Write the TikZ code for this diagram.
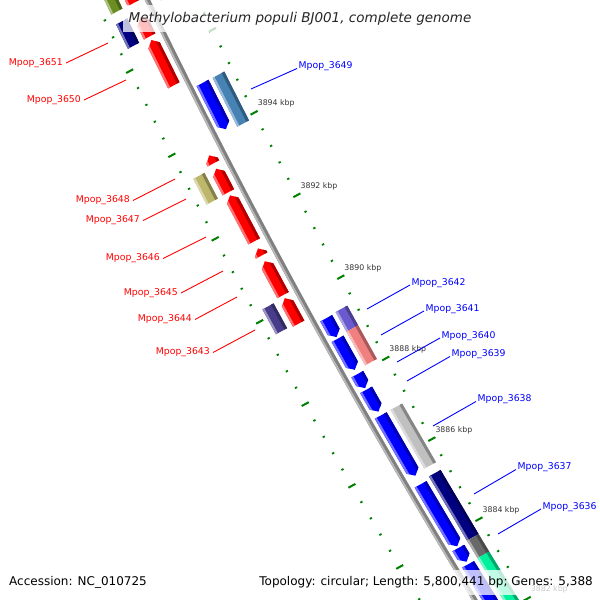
\documentclass[tikz,border=0pt]{standalone}
\usepackage{fontspec}
\setmainfont{DejaVu Sans}
\usetikzlibrary{calc}
\definecolor{cRed}{RGB}{255,0,0}
\definecolor{cBlue}{RGB}{0,0,255}
\definecolor{cSteel}{RGB}{70,130,180}
\definecolor{cNavy}{RGB}{0,0,128}
\definecolor{cOlive}{RGB}{107,142,35}
\definecolor{cKhaki}{RGB}{189,183,107}
\definecolor{cSlate}{RGB}{72,61,139}
\definecolor{cMSlate}{RGB}{106,90,205}
\definecolor{cCoral}{RGB}{240,128,128}
\definecolor{cSilver}{RGB}{192,192,192}
\definecolor{cDim}{RGB}{105,105,105}
\definecolor{cMint}{RGB}{0,240,155}
\definecolor{cTick}{RGB}{0,128,0}
\definecolor{cTickTxt}{RGB}{51,51,51}
\definecolor{cBB}{RGB}{128,128,128}
\definecolor{cBBl}{RGB}{185,185,185}

\makeatletter
\def\gcs@parse#1,#2\@nil{\pgfmathsetmacro\gcs@a{#1}\pgfmathsetmacro\gcs@o{#2}}
\tikzdeclarecoordinatesystem{g}{%
  \gcs@parse#1\@nil
  \pgfmathsetmacro\gcs@D{(\gcs@a/117.92)*((683.6-\gcs@a)/117.92)}%
  \pgfmathsetmacro\gcs@q{(\gcs@o)-(\gcs@D)}%
  \pgfmathsetmacro\gcs@x{147.5+0.479*(\gcs@a)+0.8777*(\gcs@q)}%
  \pgfmathsetmacro\gcs@y{0.8777*(\gcs@a)-0.479*(\gcs@q)}%
  \pgfpointxy{\gcs@x}{\gcs@y}%
}
\makeatother

\newcommand\gquad[4]{(g cs:#1,#3) -- (g cs:#2,#3) -- (g cs:#2,#4) -- (g cs:#1,#4) -- cycle}
\newcommand\gpaint[5]{%
  \fill[#5] \gquad{#1-2}{#2+2}{#3-2}{#4+2};
  \fill[#5!55!white] \gquad{#1-2}{#2+2}{#3-2}{#3+2.2};
  \fill[#5!70!black] \gquad{#1-2}{#2+2}{#4-3}{#4+2};
}
\newcommand\gbox[5]{\begin{scope}\clip \gquad{#1}{#2}{#3}{#4};\gpaint{#1}{#2}{#3}{#4}{#5}\end{scope}}
\newcommand\gup[5]{%
  \pgfmathsetmacro\gnHead{min(6,(#2)-(#1))}%
  \pgfmathsetmacro\gnMid{((#3)+(#4))/2}%
  \begin{scope}\clip (g cs:#1,\gnMid) -- (g cs:#1+\gnHead,#3) -- (g cs:#2,#3) -- (g cs:#2,#4) -- (g cs:#1+\gnHead,#4) -- cycle;
  \gpaint{#1}{#2}{#3}{#4}{#5}\end{scope}}
\newcommand\gdn[5]{%
  \pgfmathsetmacro\gnHead{min(6,(#2)-(#1))}%
  \pgfmathsetmacro\gnMid{((#3)+(#4))/2}%
  \begin{scope}\clip (g cs:#2,\gnMid) -- (g cs:#2-\gnHead,#4) -- (g cs:#1,#4) -- (g cs:#1,#3) -- (g cs:#2-\gnHead,#3) -- cycle;
  \gpaint{#1}{#2}{#3}{#4}{#5}\end{scope}}

\begin{document}
\begin{tikzpicture}[x=1pt,y=-1pt,
  lblL/.style={text=cRed,font=\fontsize{9.3}{11}\selectfont,inner xsep=3pt,inner ysep=0pt,anchor=east},
  lblR/.style={text=cBlue,font=\fontsize{9.3}{11}\selectfont,inner xsep=1.5pt,inner ysep=0pt,anchor=west},
  lineL/.style={cRed,line width=0.9pt},
  lineR/.style={cBlue,line width=0.9pt},
  tickmaj/.style={cTick,line width=2pt},
  tickmin/.style={cTick,line width=1.8pt},
  tklbl/.style={text=cTickTxt,font=\fontsize{7.8}{9}\selectfont,inner sep=0pt,anchor=west},
  fadebox/.style={fill=white,fill opacity=0.75,text opacity=1,inner sep=0pt},
]
\useasboundingbox (0,0) rectangle (600,600);
\begin{scope}
\clip (0,0) rectangle (600,600);
% tick rings
\foreach \i in {-3,...,37}{
  \pgfmathsetmacro\ta{53.9+18.82*\i}
  \pgfmathtruncatemacro\ismaj{mod(\i+100,5)==0}
  \ifnum\ismaj=1
    \draw[tickmaj] (g cs:\ta,-51.3) -- (g cs:\ta,-43.3);
  \else
    \draw[tickmin] (g cs:\ta,-48.5) -- (g cs:\ta,-46.1);
  \fi
}
\foreach \i in {-3,...,37}{
  \pgfmathsetmacro\tb{57.2+18.58*\i}
  \pgfmathtruncatemacro\ismaj{mod(\i+100,5)==0}
  \ifnum\ismaj=1
    \draw[tickmaj] (g cs:\tb,41.3) -- (g cs:\tb,49.3);
    \pgfmathtruncatemacro\kb{3896-2*\i/5}
    \ifnum\i>0
      \node[tklbl,xshift=3.5pt,yshift=9pt] (tk\kb) at (g cs:\tb,45.3) {\kb{} kbp};
    \fi
  \else
    \draw[tickmin] (g cs:\tb,44.1) -- (g cs:\tb,46.5);
  \fi
}
% backbone
\draw[cBB,line width=5pt] plot[variable=\t,domain=-30:740,samples=40] (g cs:\t,0);
\draw[cBBl,line width=1.8pt] plot[variable=\t,domain=-30:740,samples=40] (g cs:\t,-1.5);
% left outer boxes
\gbox{-80}{-4.5}{-39}{-26.3}{cOlive}
\gbox{6.5}{33.5}{-39}{-26.3}{cNavy}
\gbox{179}{208}{-39}{-26.3}{cKhaki}
\gbox{326.7}{355}{-39}{-26.3}{cSlate}
% left red genes
\gup{-80}{-4}{-20.5}{-7.5}{cRed}
\gup{12}{33}{-20.5}{-7.5}{cRed}
\gup{37}{87.5}{-20.5}{-7.5}{cRed}
\gup{166}{175}{-20.5}{-7.5}{cRed}
\gup{181}{207.5}{-20.5}{-7.5}{cRed}
\gup{211}{263}{-20.5}{-7.5}{cRed}
\gup{271}{279}{-20.5}{-7.5}{cRed}
\gup{285.5}{324}{-20.5}{-7.5}{cRed}
\gup{327.5}{356.5}{-20.5}{-7.5}{cRed}
% right blue genes
\gdn{-60}{7}{6}{19.5}{cBlue}
\gdn{99.2}{151}{6}{19.5}{cBlue}
\gdn{365}{386.5}{6}{19.5}{cBlue}
\gdn{388.5}{424}{6}{19.5}{cBlue}
\gdn{429}{445}{6}{19.5}{cBlue}
\gdn{447}{472}{6}{19.5}{cBlue}
\gdn{476.5}{546}{6}{19.5}{cBlue}
\gdn{556}{628}{6}{19.5}{cBlue}
\gdn{630}{646}{6}{19.5}{cBlue}
\gdn{649}{760}{6}{19.5}{cBlue}
% right outer boxes
\gbox{99.6}{154.3}{24}{37.3}{cSteel}
\gbox{364}{386.5}{24}{37.3}{cMSlate}
\gbox{386.5}{425}{24}{37.3}{cCoral}
\gbox{476.3}{544}{24}{37.3}{cSilver}
\gbox{553}{627.5}{24}{37.3}{cNavy}
\gbox{627.5}{648}{24}{37.3}{cDim}
\gbox{648}{760}{24}{37.3}{cMint}
% left labels
\foreach \nm/\ix/\iy/\ox/\oy in {3651/108/43/66/63, 3650/126/80/84/100, 3648/175/179/133/200.5, 3647/186/199/143/220.5, 3646/206/237/163/258.5, 3645/223/271/181/293, 3644/237/297/195/319.5, 3643/255/330/213/352.5}{
  \node[lblL] (l\nm) at (\ox,\oy) {Mpop\_\nm};
  \coordinate (c\nm) at (\ix,\iy);
  \draw[lineL] (c\nm) -- (l\nm.east);
}
% right labels
\foreach \nm/\ix/\iy/\ox/\oy in {3649/251/89/297/66.5, 3642/367/309/410/283, 3641/381/335/424/309, 3640/397/362/440/336, 3639/407/381/450/354.5, 3638/433/426/476/399.5, 3637/474/494/516/467.5, 3636/498/534/541/507}{
  \node[lblR] (l\nm) at (\ox,\oy) {Mpop\_\nm};
  \coordinate (c\nm) at (\ix,\iy);
  \draw[lineR] (c\nm) -- ([yshift=-2pt]l\nm.west);
}
\end{scope}
% title and legend
\node[fadebox,minimum width=354pt,minimum height=27pt,text=black!85,font=\fontsize{13.5}{16}\selectfont\itshape] (title) at (300,18.5) {Methylobacterium populi BJ001, complete genome};
\node[anchor=west,inner sep=0pt,font=\fontsize{12}{14}\selectfont] (acc) at (9,582.5) {Accession: NC\_010725};
\node[fadebox,anchor=east,minimum height=25pt,inner xsep=3pt,font=\fontsize{12}{14}\selectfont] (topo) at (596,582.5) {Topology: circular; Length: 5,800,441 bp; Genes: 5,388};
\end{tikzpicture}
\end{document}
